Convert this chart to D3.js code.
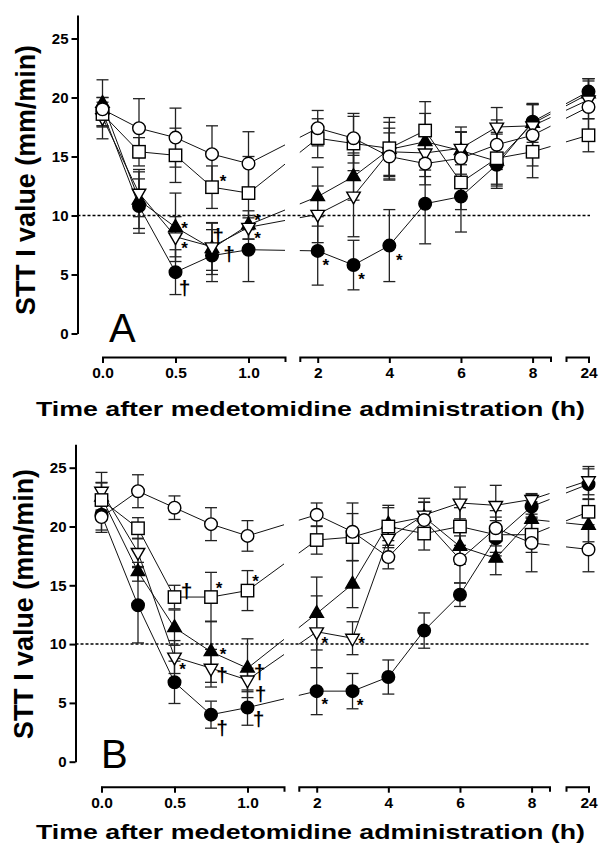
<!DOCTYPE html>
<html>
<head>
<meta charset="utf-8">
<script src="https://cdn.jsdelivr.net/npm/d3@7"></script>
<style>
  body { margin: 0; background: #fff; }
  svg { display: block; }
</style>
</head>
<body>
<div id="chart"></div>
<script>
// sampling times (h)
var times = [0, 0.25, 0.5, 0.75, 1, 2, 3, 4, 5, 6, 7, 8, 24];
var xTickLabels1 = [0, 0.5, 1];
var xTickLabels2 = [2, 4, 6, 8];
var xTickLabels3 = [24];
var yTicks = [0, 5, 10, 15, 20, 25];
var threshold = 10;

// panel A means and SD
var aFilledCircle   = [18.8, 10.8, 5.2, 6.6, 7.1, 7.0, 5.8, 7.45, 11.0, 11.6, 14.3, 17.95, 20.5];
var aFilledCircleSD = [1.2, 2.3, 1.9, 2.2, 2.7, 2.9, 2.1, 3.05, 3.4, 3.0, 1.8, 1.5, 1.1];
var aOpenCircle     = [19.0, 17.4, 16.6, 15.2, 14.4, 17.4, 16.55, 15.0, 14.4, 14.85, 16.0, 16.8, 19.2];
var aOpenCircleSD   = [2.5, 2.5, 2.5, 2.4, 2.7, 1.5, 2.1, 2.0, 1.8, 2.2, 2.1, 2.6, 2.4];
var aSquare         = [18.6, 15.4, 15.1, 12.4, 11.9, 16.55, 16.1, 15.7, 17.2, 12.8, 14.85, 15.4, 16.8];
var aSquareSD       = [1.0, 1.2, 2.3, 1.8, 3.1, 1.65, 2.3, 2.6, 2.45, 2.3, 2.2, 2.2, 1.4];
var aTriangle       = [19.5, 11.3, 9.0, 7.2, 9.2, 11.6, 13.3, 15.6, 16.25, 15.5, 14.6, 17.8, 20.3];
var aTriangleSD     = [0.5, 2.4, 2.9, 2.2, 1.2, 2.5, 2.0, 2.3, 2.4, 2.0, 2.3, 1.6, 1.3];
var aTriDown        = [18.3, 11.9, 8.2, 7.35, 9.0, 10.1, 11.65, 15.4, 15.3, 15.7, 17.5, 17.6, 19.8];
var aTriDownSD      = [0.8, 2.0, 1.7, 2.0, 1.0, 2.4, 3.45, 2.0, 2.0, 1.4, 1.65, 1.9, 1.6];

// panel B means and SD
var bFilledCircle   = [21.0, 13.3, 6.75, 4.0, 4.6, 6.0, 6.0, 7.2, 11.15, 14.2, 19.0, 21.7, 23.6];
var bFilledCircleSD = [1.3, 3.2, 1.8, 1.15, 1.5, 2.0, 1.5, 1.45, 1.5, 1.0, 1.5, 1.0, 1.3];
var bOpenCircle     = [20.8, 23.0, 21.6, 20.2, 19.2, 21.0, 19.55, 17.4, 20.55, 17.2, 19.85, 18.6, 18.05];
var bOpenCircleSD   = [1.3, 1.4, 1.0, 1.4, 1.3, 1.0, 2.45, 1.0, 1.5, 2.0, 1.5, 2.45, 1.9];
var bSquare         = [22.25, 19.85, 14.0, 14.0, 14.55, 18.85, 19.1, 20.0, 19.4, 20.0, 19.3, 19.3, 21.25];
var bSquareSD       = [1.5, 0.9, 1.0, 2.1, 1.7, 1.2, 2.0, 1.8, 1.4, 1.6, 1.5, 1.5, 1.1];
var bTriangle       = [22.5, 16.15, 11.4, 9.35, 7.95, 12.6, 15.1, 20.2, 20.8, 18.3, 17.3, 20.6, 20.1];
var bTriangleSD     = [1.2, 0.8, 1.5, 2.6, 2.5, 3.1, 2.0, 1.4, 1.6, 1.5, 1.4, 1.5, 1.4];
var bTriDown        = [23.0, 17.8, 8.9, 7.95, 6.95, 11.05, 10.5, 19.0, 20.98, 22.0, 21.8, 22.3, 23.9];
var bTriDownSD      = [1.6, 1.2, 1.4, 1.6, 1.0, 3.05, 1.4, 1.4, 1.1, 1.35, 1.7, 0.5, 1.2];

// significance marks: [time, value, symbol]
var aMarks = [[0.5, 9.2, "*"], [0.5, 7.5, "*"], [0.5, 3.85, "†"], [0.75, 13.2, "*"],
  [0.75, 8.2, "†"], [0.75, 6.7, "†"], [1, 9.9, "*"], [1, 8.35, "*"],
  [2, 6.08, "*"], [3, 4.9, "*"], [4, 6.5, "*"]];
var bMarks = [[0.5, 14.45, "†"], [0.5, 8.14, "*"], [0.75, 15.0, "*"], [0.75, 9.4, "*"],
  [0.75, 7.3, "†"], [0.75, 2.85, "†"], [1, 15.6, "*"], [1, 7.6, "†"], [1, 5.7, "†"],
  [1, 3.55, "†"], [2, 10.35, "*"], [2, 5.2, "*"], [3, 10.35, "*"], [3, 5.1, "*"]];
var markShift = [9, 9, 9, 11, 6, 17, 9, 9, 8, 8, 10]; // px right of the point (A)
var markShiftB = [12, 8, 8, 12, 11, 11, 8, 12, 13, 11, 8, 8, 9, 7.5];

var font = "Arial, 'Liberation Sans', sans-serif";

var svg = d3.select("#chart").append("svg")
  .attr("width", 599).attr("height", 847);

function drawPanel(p) {
  var g = svg.append("g");

  // y scale
  var y = d3.scaleLinear().domain([0, 27]).range([p.y0, p.y0 - 27 * p.pxPerUnit]);

  // broken x axis: three segments
  var s1 = d3.scaleLinear().domain([0, 1.25]).range([102.5 + p.dx, 285 + p.dx]);
  var s2 = d3.scaleLinear().domain([1.5, 8.5]).range([299.8 + p.dx, 550.5 + p.dx]);
  var s3 = d3.scaleLinear().domain([23.4, 24]).range([566, 588.5]);
  function x(t) { return t <= 1.25 ? s1(t) : (t <= 8.5 ? s2(t) : s3(t)); }

  // clip for connecting lines (gaps between segments)
  var clip = svg.append("clipPath").attr("id", "clip" + p.name);
  [s1, s2, s3].forEach(function (s) {
    clip.append("rect")
      .attr("x", s.range()[0]).attr("width", s.range()[1] - s.range()[0])
      .attr("y", y(27) - 10).attr("height", p.y0 - y(27) + 20);
  });

  // dotted threshold line
  g.append("line")
    .attr("x1", p.yAxisX).attr("x2", 590)
    .attr("y1", y(threshold)).attr("y2", y(threshold))
    .attr("stroke", "#000").attr("stroke-width", 1.5)
    .attr("stroke-dasharray", "3,2");

  var series = p.series;

  // lines
  var line = d3.line().x(function (d) { return x(d.t); }).y(function (d) { return y(d.v); });
  g.append("g").attr("clip-path", "url(#clip" + p.name + ")")
    .selectAll("path").data(series).enter().append("path")
    .attr("d", function (s) { return line(s.pts); })
    .attr("fill", "none").attr("stroke", "#111").attr("stroke-width", 1);

  // error bars
  var cap = 6;
  series.forEach(function (s) {
    var eb = g.append("g").attr("stroke", "#222").attr("stroke-width", 1.3);
    s.pts.forEach(function (d) {
      var cx = x(d.t), lo = y(d.v - d.sd), hi = y(d.v + d.sd);
      eb.append("line").attr("x1", cx).attr("x2", cx).attr("y1", lo).attr("y2", hi);
      eb.append("line").attr("x1", cx - cap).attr("x2", cx + cap).attr("y1", lo).attr("y2", lo);
      eb.append("line").attr("x1", cx - cap).attr("x2", cx + cap).attr("y1", hi).attr("y2", hi);
    });
  });

  // markers
  var tri = 13.5, h = tri * 0.866;
  series.forEach(function (s) {
    var mg = g.append("g");
    s.pts.forEach(function (d) {
      var cx = x(d.t), cy = y(d.v), m;
      if (s.shape === "circle") {
        m = mg.append("circle").attr("cx", cx).attr("cy", cy).attr("r", 6.3);
      } else if (s.shape === "square") {
        m = mg.append("rect").attr("x", cx - 6.2).attr("y", cy - 6.2).attr("width", 12.4).attr("height", 12.4);
      } else if (s.shape === "up") {
        m = mg.append("path").attr("d", "M" + cx + "," + (cy - h * 2 / 3) + "L" + (cx + tri / 2) + "," + (cy + h / 3) + "L" + (cx - tri / 2) + "," + (cy + h / 3) + "Z");
      } else {
        m = mg.append("path").attr("d", "M" + cx + "," + (cy + h * 2 / 3) + "L" + (cx + tri / 2) + "," + (cy - h / 3) + "L" + (cx - tri / 2) + "," + (cy - h / 3) + "Z");
      }
      m.attr("fill", s.filled ? "#000" : "#fff").attr("stroke", "#000").attr("stroke-width", 1.4);
    });
  });

  // significance marks
  p.marks.forEach(function (mk, i) {
    var star = mk[2] === "*";
    g.append("text")
      .attr("x", x(mk[0]) + p.shift[i])
      .attr("y", y(mk[1]) + (star ? 9 : 6.5))
      .attr("text-anchor", "middle")
      .attr("font-family", font).attr("font-weight", "bold")
      .attr("font-size", star ? 17 : 21)
      .text(mk[2]);
  });

  // y axis
  var ya = g.append("g").attr("transform", "translate(" + p.yAxisX + ",0)")
    .call(d3.axisLeft(y).tickValues(yTicks).tickSize(6).tickSizeOuter(0).tickPadding(3));
  ya.select(".domain").attr("stroke-width", 2);
  ya.selectAll(".tick line").attr("stroke-width", 2);
  ya.selectAll("text").attr("font-family", font).attr("font-weight", "bold").attr("font-size", 15);

  // x axis segments
  var segs = [[s1, xTickLabels1, d3.format(".1f")], [s2, xTickLabels2, d3.format("d")], [s3, xTickLabels3, d3.format("d")]];
  segs.forEach(function (sg) {
    var xa = g.append("g").attr("transform", "translate(0," + p.xAxisY + ")")
      .call(d3.axisBottom(sg[0]).tickValues(sg[1]).tickFormat(sg[2]).tickSize(6).tickSizeOuter(5).tickPadding(4));
    xa.select(".domain").attr("stroke-width", 2);
    xa.selectAll(".tick line").attr("stroke-width", 2);
    xa.selectAll("text").attr("font-family", font).attr("font-weight", "bold").attr("font-size", 15.5);
  });

  // axis titles
  g.append("text")
    .attr("x", 36).attr("y", p.titleY)
    .attr("textLength", 549).attr("lengthAdjust", "spacingAndGlyphs")
    .attr("font-family", font).attr("font-weight", "bold").attr("font-size", 21)
    .text("Time after medetomidine administration (h)");

  g.append("text")
    .attr("transform", "translate(" + p.yTitleX + "," + p.yTitleY + ") rotate(-90)")
    .attr("text-anchor", "middle")
    .attr("textLength", 270).attr("lengthAdjust", "spacingAndGlyphs")
    .attr("font-family", font).attr("font-weight", "bold").attr("font-size", 27)
    .text("STT I value (mm/min)");

  // panel letter
  g.append("text")
    .attr("x", p.letterX).attr("y", p.letterY)
    .attr("font-family", font).attr("font-size", 40)
    .text(p.name);
}

function makeSeries(fc, fcSD, oc, ocSD, sq, sqSD, tr, trSD, td, tdSD) {
  function pts(v, sd) { return times.map(function (t, i) { return { t: t, v: v[i], sd: sd[i] }; }); }
  // drawing order: filled circle, filled triangle, open triangle, open square, open circle
  return [
    { shape: "circle", filled: true, pts: pts(fc, fcSD) },
    { shape: "up", filled: true, pts: pts(tr, trSD) },
    { shape: "down", filled: false, pts: pts(td, tdSD) },
    { shape: "square", filled: false, pts: pts(sq, sqSD) },
    { shape: "circle", filled: false, pts: pts(oc, ocSD) }
  ];
}

drawPanel({
  name: "A", y0: 333.5, pxPerUnit: 11.8, dx: 0, yAxisX: 77.5, xAxisY: 357,
  titleY: 416, yTitleX: 35, yTitleY: 180, letterX: 109, letterY: 342,
  marks: aMarks, shift: markShift,
  series: makeSeries(aFilledCircle, aFilledCircleSD, aOpenCircle, aOpenCircleSD, aSquare, aSquareSD,
    aTriangle, aTriangleSD, aTriDown, aTriDownSD)
});

drawPanel({
  name: "B", y0: 761.7, pxPerUnit: 11.76, dx: -1, yAxisX: 75.5, xAxisY: 786.7,
  titleY: 839, yTitleX: 33, yTitleY: 604, letterX: 101, letterY: 768,
  marks: bMarks, shift: markShiftB,
  series: makeSeries(bFilledCircle, bFilledCircleSD, bOpenCircle, bOpenCircleSD, bSquare, bSquareSD,
    bTriangle, bTriangleSD, bTriDown, bTriDownSD)
});
</script>
</body>
</html>
